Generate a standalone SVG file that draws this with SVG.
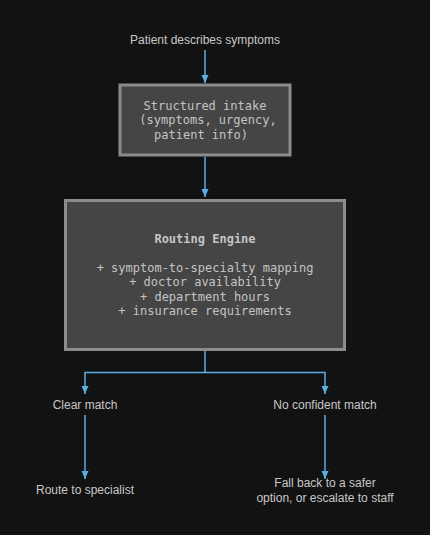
<svg xmlns="http://www.w3.org/2000/svg" width="430" height="535" viewBox="0 0 430 535">
<style>
.lbl{font-family:"Liberation Sans",Arial,sans-serif;font-size:12px;fill:#c8c8c8;text-anchor:middle}
.mono{font-family:"DejaVu Sans Mono","Liberation Mono",monospace;font-size:12px;fill:#c4c4c4;text-anchor:middle}
.box{fill:#454545;stroke:#8c8c8c;stroke-width:3}
.conn{fill:none;stroke:#5aaee6;stroke-width:1.5}
</style>
<defs>
<marker id="ah" viewBox="0 0 8 8" refX="8" refY="4" markerWidth="8" markerHeight="8" markerUnits="userSpaceOnUse" orient="auto">
<path d="M0,0.5 L8,4 L0,7.5 Z" fill="#5aaee6"/>
</marker>
</defs>
<rect width="430" height="535" fill="#121212"/>
<g id="connectors">
<line class="conn" x1="205" y1="50" x2="205" y2="83" marker-end="url(#ah)"/>
<line class="conn" x1="205" y1="157" x2="205" y2="197" marker-end="url(#ah)"/>
<polyline class="conn" points="205,351 205,372.5 85,372.5 85,394" marker-end="url(#ah)"/>
<polyline class="conn" points="205,372.5 325,372.5 325,394" marker-end="url(#ah)"/>
<line class="conn" x1="85" y1="415" x2="85" y2="479" marker-end="url(#ah)"/>
<line class="conn" x1="325" y1="415" x2="325" y2="479" marker-end="url(#ah)"/>
</g>
<g id="start">
<text class="lbl" x="205" y="44">Patient describes symptoms</text>
</g>
<g id="intake">
<rect class="box" x="120" y="85" width="170" height="70"/>
<text class="mono" x="205" y="110">Structured intake</text>
<text class="mono" x="208" y="124">(symptoms, urgency,</text>
<text class="mono" x="201" y="138.5">patient info)</text>
</g>
<g id="engine">
<rect class="box" x="65.5" y="200.5" width="279" height="149"/>
<text class="mono" x="205" y="242.5" font-weight="bold">Routing Engine</text>
<text class="mono" x="205" y="272">+ symptom-to-specialty mapping</text>
<text class="mono" x="205" y="286">+ doctor availability</text>
<text class="mono" x="205" y="300.5">+ department hours</text>
<text class="mono" x="205" y="314.5">+ insurance requirements</text>
</g>
<g id="clear">
<text class="lbl" x="85" y="408.5">Clear match</text>
</g>
<g id="noconf">
<text class="lbl" x="325" y="408.5">No confident match</text>
</g>
<g id="route">
<text class="lbl" x="85" y="493.5">Route to specialist</text>
</g>
<g id="fallback">
<text class="lbl" x="325" y="487">Fall back to a safer</text>
<text class="lbl" x="325" y="501.5">option, or escalate to staff</text>
</g>
</svg>
